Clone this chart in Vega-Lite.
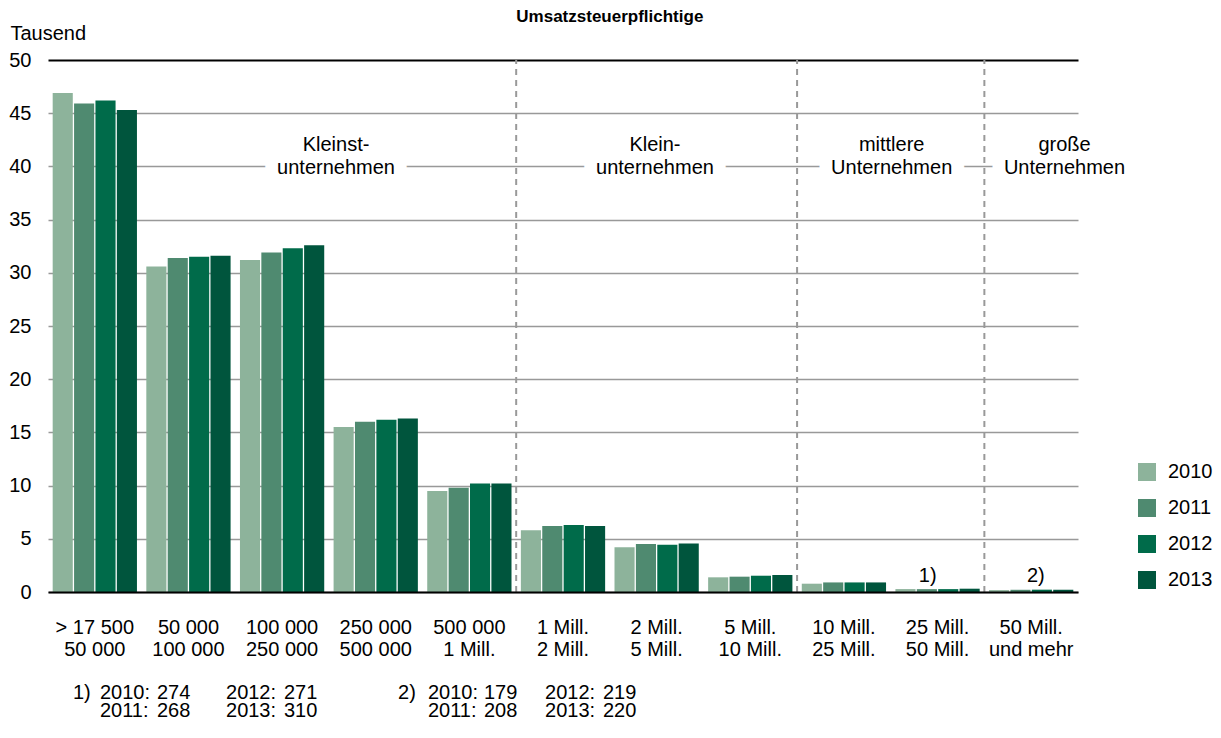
{
  "$schema": "https://vega.github.io/schema/vega-lite/v6.json",
  "width": 1030,
  "height": 532,
  "autosize": {"type": "none"},
  "padding": {"left": 48, "top": 60, "right": 143, "bottom": 146},
  "config": {"view": {"stroke": null}, "font": "Liberation Sans"},
  "datasets": {
    "bars": [
      {"k": "> 17 500|50 000", "jahr": "2010", "v": 46.9},
      {"k": "> 17 500|50 000", "jahr": "2011", "v": 45.9},
      {"k": "> 17 500|50 000", "jahr": "2012", "v": 46.2},
      {"k": "> 17 500|50 000", "jahr": "2013", "v": 45.3},
      {"k": "50 000|100 000", "jahr": "2010", "v": 30.6},
      {"k": "50 000|100 000", "jahr": "2011", "v": 31.4},
      {"k": "50 000|100 000", "jahr": "2012", "v": 31.5},
      {"k": "50 000|100 000", "jahr": "2013", "v": 31.6},
      {"k": "100 000|250 000", "jahr": "2010", "v": 31.2},
      {"k": "100 000|250 000", "jahr": "2011", "v": 31.9},
      {"k": "100 000|250 000", "jahr": "2012", "v": 32.3},
      {"k": "100 000|250 000", "jahr": "2013", "v": 32.6},
      {"k": "250 000|500 000", "jahr": "2010", "v": 15.5},
      {"k": "250 000|500 000", "jahr": "2011", "v": 16.0},
      {"k": "250 000|500 000", "jahr": "2012", "v": 16.2},
      {"k": "250 000|500 000", "jahr": "2013", "v": 16.3},
      {"k": "500 000|1 Mill.", "jahr": "2010", "v": 9.5},
      {"k": "500 000|1 Mill.", "jahr": "2011", "v": 9.8},
      {"k": "500 000|1 Mill.", "jahr": "2012", "v": 10.2},
      {"k": "500 000|1 Mill.", "jahr": "2013", "v": 10.2},
      {"k": "1 Mill.|2 Mill.", "jahr": "2010", "v": 5.8},
      {"k": "1 Mill.|2 Mill.", "jahr": "2011", "v": 6.2},
      {"k": "1 Mill.|2 Mill.", "jahr": "2012", "v": 6.3},
      {"k": "1 Mill.|2 Mill.", "jahr": "2013", "v": 6.2},
      {"k": "2 Mill.|5 Mill.", "jahr": "2010", "v": 4.2},
      {"k": "2 Mill.|5 Mill.", "jahr": "2011", "v": 4.5},
      {"k": "2 Mill.|5 Mill.", "jahr": "2012", "v": 4.45},
      {"k": "2 Mill.|5 Mill.", "jahr": "2013", "v": 4.55},
      {"k": "5 Mill.|10 Mill.", "jahr": "2010", "v": 1.38},
      {"k": "5 Mill.|10 Mill.", "jahr": "2011", "v": 1.44},
      {"k": "5 Mill.|10 Mill.", "jahr": "2012", "v": 1.53},
      {"k": "5 Mill.|10 Mill.", "jahr": "2013", "v": 1.6},
      {"k": "10 Mill.|25 Mill.", "jahr": "2010", "v": 0.78},
      {"k": "10 Mill.|25 Mill.", "jahr": "2011", "v": 0.9},
      {"k": "10 Mill.|25 Mill.", "jahr": "2012", "v": 0.9},
      {"k": "10 Mill.|25 Mill.", "jahr": "2013", "v": 0.9},
      {"k": "25 Mill.|50 Mill.", "jahr": "2010", "v": 0.274},
      {"k": "25 Mill.|50 Mill.", "jahr": "2011", "v": 0.268},
      {"k": "25 Mill.|50 Mill.", "jahr": "2012", "v": 0.271},
      {"k": "25 Mill.|50 Mill.", "jahr": "2013", "v": 0.31},
      {"k": "50 Mill.|und mehr", "jahr": "2010", "v": 0.179},
      {"k": "50 Mill.|und mehr", "jahr": "2011", "v": 0.208},
      {"k": "50 Mill.|und mehr", "jahr": "2012", "v": 0.219},
      {"k": "50 Mill.|und mehr", "jahr": "2013", "v": 0.22}
    ],
    "gruppen": [
      {"p": 3.076, "v": 41.45, "t": "Kleinst-"},
      {"p": 3.076, "v": 39.33, "t": "unternehmen"},
      {"p": 6.482, "v": 41.45, "t": "Klein-"},
      {"p": 6.482, "v": 39.33, "t": "unternehmen"},
      {"p": 9.01, "v": 41.45, "t": "mittlere"},
      {"p": 9.01, "v": 39.33, "t": "Unternehmen"},
      {"p": 10.856, "v": 41.45, "t": "große"},
      {"p": 10.856, "v": 39.33, "t": "Unternehmen"}
    ],
    "grenzen": [{"p": 5, "v": 0, "v2": 50}, {"p": 8, "v": 0, "v2": 50}, {"p": 10, "v": 0, "v2": 50}],
    "notizen": [
      {"p": 9.3, "v": 0.94, "t": "1)"},
      {"p": 10.455, "v": 0.94, "t": "2)"},
      {"p": 0.267, "v": -10.06, "t": "1)"},
      {"p": 0.555, "v": -10.06, "t": "2010:"},
      {"p": 1.164, "v": -10.06, "t": "274"},
      {"p": 1.901, "v": -10.06, "t": "2012:"},
      {"p": 2.52, "v": -10.06, "t": "271"},
      {"p": 0.555, "v": -11.75, "t": "2011:"},
      {"p": 1.164, "v": -11.75, "t": "268"},
      {"p": 1.901, "v": -11.75, "t": "2013:"},
      {"p": 2.52, "v": -11.75, "t": "310"},
      {"p": 3.738, "v": -10.06, "t": "2)"},
      {"p": 4.058, "v": -10.06, "t": "2010:"},
      {"p": 4.656, "v": -10.06, "t": "179"},
      {"p": 5.308, "v": -10.06, "t": "2012:"},
      {"p": 5.927, "v": -10.06, "t": "219"},
      {"p": 4.058, "v": -11.75, "t": "2011:"},
      {"p": 4.656, "v": -11.75, "t": "208"},
      {"p": 5.308, "v": -11.75, "t": "2013:"},
      {"p": 5.927, "v": -11.75, "t": "220"}
    ],
    "titel": [{"p": 6.0, "v": 53.57, "t": "Umsatzsteuerpflichtige"}]
  },
  "encoding": {
    "y": {
      "field": "v", "type": "quantitative",
      "scale": {"domain": [0, 50], "nice": false, "zero": false},
      "axis": {
        "title": "Tausend", "titleAngle": 0, "titleAlign": "left", "titleBaseline": "alphabetic",
        "titleX": -38, "titleY": -21, "titleFontSize": 20, "titleFontWeight": "normal", "titleColor": "black",
        "values": [0, 5, 10, 15, 20, 25, 30, 35, 40, 45, 50],
        "labelFontSize": 20, "labelColor": "black", "labelPadding": 17, "labelBaseline": "middle",
        "ticks": false, "domain": false, "grid": true,
        "gridColor": {"condition": {"test": "datum.value === 50", "value": "black"}, "value": "#999999"},
        "gridWidth": {"condition": {"test": "datum.value === 50", "value": 2}, "value": 1.5}
      }
    }
  },
  "layer": [
    {
      "data": {"name": "bars"},
      "mark": {"type": "bar"},
      "encoding": {
        "x": {
          "field": "k", "type": "nominal", "sort": null,
          "scale": {"paddingInner": 0.1, "paddingOuter": 0.05},
          "axis": {
            "title": null, "labelAngle": 0, "labelExpr": "split(datum.label, '|')",
            "labelFontSize": 20, "labelColor": "black", "labelBaseline": "alphabetic",
            "labelPadding": 41, "labelLineHeight": 22, "ticks": false,
            "domainColor": "black", "domainWidth": 2, "zindex": 1, "grid": false
          }
        },
        "xOffset": {"field": "jahr", "type": "nominal", "scale": {"paddingInner": 0.06}},
        "color": {
          "field": "jahr", "type": "nominal",
          "scale": {"domain": ["2010", "2011", "2012", "2013"], "range": ["#8db39b", "#4f8a70", "#006b4a", "#00553d"]},
          "legend": {
            "title": null, "orient": "none", "legendX": 1089, "legendY": 402,
            "symbolType": "square", "symbolSize": 324, "symbolStrokeWidth": 0, "symbolOpacity": 1,
            "labelFontSize": 20, "labelColor": "black", "labelOffset": 11, "rowPadding": 16, "padding": 0
          }
        }
      }
    },
    {
      "data": {"name": "gruppen"},
      "mark": {"type": "text", "fontSize": 20, "align": "center", "baseline": "alphabetic", "stroke": "white", "strokeWidth": 26, "strokeJoin": "round", "fill": "white"},
      "encoding": {
        "x": {"field": "p", "type": "quantitative", "scale": {"domain": [0, 11], "nice": false, "zero": false}, "axis": null},
        "text": {"field": "t"}
      }
    },
    {
      "data": {"name": "grenzen"},
      "mark": {"type": "rule", "color": "#999999", "strokeWidth": 2, "strokeDash": [6, 5]},
      "encoding": {
        "x": {"field": "p", "type": "quantitative", "scale": {"domain": [0, 11], "nice": false, "zero": false}, "axis": null},
        "y2": {"field": "v2"}
      }
    },
    {
      "data": {"name": "gruppen"},
      "mark": {"type": "text", "fontSize": 20, "align": "center", "baseline": "alphabetic", "color": "black"},
      "encoding": {
        "x": {"field": "p", "type": "quantitative", "scale": {"domain": [0, 11], "nice": false, "zero": false}, "axis": null},
        "text": {"field": "t"}
      }
    },
    {
      "data": {"name": "notizen"},
      "mark": {"type": "text", "fontSize": 20, "align": "left", "baseline": "alphabetic", "color": "black"},
      "encoding": {
        "x": {"field": "p", "type": "quantitative", "scale": {"domain": [0, 11], "nice": false, "zero": false}, "axis": null},
        "text": {"field": "t"}
      }
    },
    {
      "data": {"name": "titel"},
      "mark": {"type": "text", "fontSize": 17, "fontWeight": "bold", "align": "center", "baseline": "alphabetic", "color": "black"},
      "encoding": {
        "x": {"field": "p", "type": "quantitative", "scale": {"domain": [0, 11], "nice": false, "zero": false}, "axis": null},
        "text": {"field": "t"}
      }
    }
  ],
  "resolve": {"scale": {"x": "independent"}}
}
